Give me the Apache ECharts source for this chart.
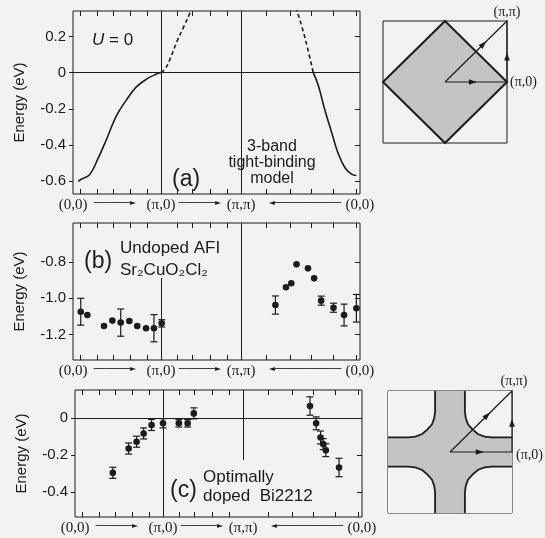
<!DOCTYPE html>
<html><head><meta charset="utf-8">
<script src="https://cdn.jsdelivr.net/npm/echarts@6/dist/echarts.min.js"></script>
<style>html,body{margin:0;padding:0;background:#f2f2f0}#c{width:545px;height:538px}</style>
</head><body><div id="c"></div><script>
// ---- k-path (units: Γ→X distance = 1) ----
const kNodes = [0, 1, 1.91, 3.26];
const kNodeLabels = ['(0,0)', '(π,0)', '(π,π)', '(0,0)'];
const kArrowPos = [0.477, 1.443, 2.636];
const kArrowDir = ['r', 'r', 'l'];
const kTicks = [0.08, 0.27, 0.46, 0.65, 0.84, 1.18, 1.36, 1.56, 1.75, 2.2, 2.47, 2.71, 2.96, 3.22];

// ---- energy tick values ----
const aYTicks = [0.2, 0, -0.2, -0.4, -0.6];
const bYTicks = [-0.8, -1.0, -1.2];
const cYTicks = [0, -0.2, -0.4];
const aYRange = [-0.67, 0.34];
const bYRange = [-1.34, -0.585];
const cYRange = [-0.536, 0.154];

// ---- (a) 3-band tight-binding, U = 0 ----
const aLeftSolid = [[0.06,-0.60],[0.09,-0.59],[0.19,-0.562],[0.28,-0.479],[0.38,-0.369],[0.49,-0.241],[0.61,-0.149],[0.72,-0.079],[0.84,-0.035],[0.93,-0.012],[1.0,0]];
const aLeftDash = [[1.0,0],[1.05,0.022],[1.10,0.072],[1.19,0.182],[1.26,0.255],[1.33,0.33],[1.35,0.36]];
const aRightDash = [[2.53,0.36],[2.545,0.34],[2.60,0.255],[2.66,0.145],[2.73,0.0]];
const aRightSolid = [[2.73,0],[2.79,-0.075],[2.86,-0.204],[2.94,-0.332],[3.01,-0.442],[3.09,-0.525],[3.17,-0.562],[3.22,-0.568]];

// ---- (b) undoped Sr2CuO2Cl2: [k, E, error] ----
const bPoints = [
  [0.088,-1.074,0.074],[0.163,-1.092,0],[0.352,-1.153,0],[0.447,-1.123,0],[0.542,-1.134,0.075],
  [0.64,-1.125,0],[0.73,-1.153,0],[0.83,-1.165,0],[0.92,-1.165,0.075],[1.008,-1.138,0.02],
  [2.30,-1.037,0.05],[2.42,-0.939,0],[2.48,-0.917,0],[2.54,-0.813,0],[2.67,-0.835,0],
  [2.74,-0.89,0],[2.82,-1.013,0.025],[2.96,-1.052,0.025],[3.08,-1.092,0.06],[3.22,-1.055,0.076]
];

// ---- (c) optimally doped Bi2212: [k, E, error] ----
const cPoints = [
  [0.43,-0.296,0.03],[0.61,-0.164,0.03],[0.70,-0.127,0.03],[0.78,-0.082,0.03],[0.87,-0.036,0.03],
  [1.0,-0.027,0.025],[1.18,-0.027,0.02],[1.28,-0.027,0.02],[1.35,0.027,0.03],
  [2.67,0.067,0.05],[2.74,-0.027,0.035],[2.79,-0.104,0.035],[2.82,-0.14,0.03],[2.85,-0.173,0.035],[3.0,-0.267,0.05]
];

// ---- Brillouin-zone sketches (units of π) ----
const bzDiamond = [[0,1],[1,0],[0,-1],[-1,0]];
const bzSquare = [[-1,-1],[1,-1],[1,1],[-1,1]];
const bzPath = [[0,0],[1,0],[1,1],[0,0]];
const bzArrowsTop = [[0.45,0,1,0],[1,0.42,0,1],[0.62,0.62,1,1]];
const bzArrowsBot = [[0.48,0,1,0],[1,0.48,0,1],[0.6,0.6,1,1]];
const fsQuadrant = [[0.24,1],[0.24,0.67],[0.253,0.56],[0.29,0.455],[0.366,0.366],[0.455,0.29],[0.56,0.253],[0.67,0.24],[1,0.24]];

const INK = '#1c1c1c', BG = '#f2f2f0', SHADE = '#c4c4c2';
const SANS = 'Liberation Sans, Arial, sans-serif';
const SERIF = 'Liberation Serif, Times New Roman, serif';

function kLabel(v) {
  for (let i = 0; i < kNodes.length; i++) if (Math.abs(v - kNodes[i]) < 1e-6) return '{n|' + kNodeLabels[i] + '}';
  for (let i = 0; i < kArrowPos.length; i++) if (Math.abs(v - kArrowPos[i]) < 1e-6)
    return kArrowDir[i] === 'r' ? '{l|──────}{h|►}' : '{h|◄}{l|───────────}';
  return '';
}
const kRich = {
  n: {fontFamily: SERIF, fontSize: 15, color: INK},
  l: {fontFamily: 'DejaVu Sans', fontSize: 10, color: INK},
  h: {fontFamily: 'DejaVu Sans', fontSize: 8, color: INK}
};

function xAxesFor(gi) {
  return [
    {gridIndex: gi, type: 'value', min: 0, max: 3.261, position: 'bottom',
     axisLine: {show: false, onZero: false}, splitLine: {show: false},
     axisTick: {show: true, inside: true, length: 5, customValues: kTicks, lineStyle: {color: INK}},
     axisLabel: {show: true, margin: 4, customValues: kNodes.concat(kArrowPos), formatter: kLabel, rich: kRich, hideOverlap: false}},
    {gridIndex: gi, type: 'value', min: 0, max: 3.261, position: 'top',
     axisLine: {show: false, onZero: false}, splitLine: {show: false}, axisLabel: {show: false},
     axisTick: {show: true, inside: true, length: 5, customValues: kTicks, lineStyle: {color: INK}}}
  ];
}
function yAxesFor(gi, range, ticks) {
  return [
    {gridIndex: gi, type: 'value', min: range[0], max: range[1], position: 'left',
     name: 'Energy (eV)', nameLocation: 'middle', nameGap: 46, nameRotate: 90,
     nameTextStyle: {fontFamily: SANS, fontSize: 15, color: INK},
     axisLine: {show: false, onZero: false}, splitLine: {show: false},
     axisTick: {show: true, inside: false, length: 4, customValues: ticks, lineStyle: {color: INK}},
     axisLabel: {show: true, margin: 7, customValues: ticks, fontFamily: SANS, fontSize: 15, color: INK,
       formatter: v => (Math.abs(v) < 1e-9 ? '0' : v.toFixed(1))}},
    {gridIndex: gi, type: 'value', min: range[0], max: range[1], position: 'right',
     axisLine: {show: false, onZero: false}, splitLine: {show: false}, axisLabel: {show: false},
     axisTick: {show: true, inside: true, length: 5, customValues: ticks, lineStyle: {color: INK}}}
  ];
}

function refLines(list) {
  return {silent: true, symbol: ['none', 'none'], animation: false, label: {show: false},
    lineStyle: {color: INK, width: 1, type: 'solid'}, emphasis: {disabled: true}, data: list};
}

function errRender(params, api) {
  const x = api.value(0), y = api.value(1), e = api.value(2);
  const p = api.coord([x, y]);
  const ch = [];
  if (e > 0) {
    const t = api.coord([x, y + e]), b = api.coord([x, y - e]);
    ch.push({type: 'line', shape: {x1: p[0], y1: t[1], x2: p[0], y2: b[1]}, style: {stroke: INK, lineWidth: 1.2}});
    ch.push({type: 'line', shape: {x1: p[0] - 3.5, y1: t[1], x2: p[0] + 3.5, y2: t[1]}, style: {stroke: INK, lineWidth: 1.2}});
    ch.push({type: 'line', shape: {x1: p[0] - 3.5, y1: b[1], x2: p[0] + 3.5, y2: b[1]}, style: {stroke: INK, lineWidth: 1.2}});
  }
  ch.push({type: 'circle', shape: {cx: p[0], cy: p[1], r: 3.3}, style: {fill: INK}});
  return {type: 'group', children: ch};
}

function arrowHead(api, a) {
  const p = api.coord([a[0], a[1]]);
  const q = api.coord([a[0] + a[2] * 0.1, a[1] + a[3] * 0.1]);
  let dx = q[0] - p[0], dy = q[1] - p[1];
  const n = Math.hypot(dx, dy); dx /= n; dy /= n;
  const L = 8, hw = 2.8;
  const tip = [p[0] + dx * L / 2, p[1] + dy * L / 2];
  const base = [p[0] - dx * L / 2, p[1] - dy * L / 2];
  return {type: 'polygon', shape: {points: [tip, [base[0] - dy * hw, base[1] + dx * hw], [base[0] + dy * hw, base[1] - dx * hw]]}, style: {fill: INK}};
}

function bzTopRender(params, api) {
  const ch = [];
  ch.push({type: 'polygon', shape: {points: bzDiamond.map(p => api.coord(p))}, style: {fill: SHADE, stroke: INK, lineWidth: 2}});
  ch.push({type: 'polyline', shape: {points: bzPath.map(p => api.coord(p))}, style: {stroke: INK, lineWidth: 1.2, fill: null}});
  bzArrowsTop.forEach(a => ch.push(arrowHead(api, a)));
  return {type: 'group', children: ch};
}
function bzBotRender(params, api) {
  const ch = [];
  ch.push({type: 'polygon', shape: {points: bzSquare.map(p => api.coord(p))}, style: {fill: SHADE}});
  [[1,1],[-1,1],[-1,-1],[1,-1]].forEach(([sx, sy]) => {
    const pts = fsQuadrant.map(([x, y]) => api.coord([sx * x, sy * y]));
    ch.push({type: 'polygon', shape: {points: pts.concat([api.coord([sx, sy])])}, style: {fill: BG}});
    ch.push({type: 'polyline', shape: {points: pts}, style: {stroke: INK, lineWidth: 1.8, fill: null}});
  });
  ch.push({type: 'polyline', shape: {points: bzPath.map(p => api.coord(p))}, style: {stroke: INK, lineWidth: 1.2, fill: null}});
  bzArrowsBot.forEach(a => ch.push(arrowHead(api, a)));
  return {type: 'group', children: ch};
}

const gridStyle = {show: true, borderColor: INK, borderWidth: 1, backgroundColor: 'transparent'};
const option = {
  backgroundColor: BG,
  animation: false,
  grid: [
    Object.assign({left: 73, top: 11, width: 287, height: 183}, gridStyle),
    Object.assign({left: 73, top: 223, width: 287, height: 137}, gridStyle),
    Object.assign({left: 75, top: 390, width: 287, height: 127}, gridStyle),
    Object.assign({left: 383, top: 21, width: 124, height: 122}, gridStyle),
    Object.assign({left: 388, top: 391, width: 124, height: 122}, gridStyle)
  ],
  xAxis: [].concat(xAxesFor(0), xAxesFor(1), xAxesFor(2),
    [{gridIndex: 3, type: 'value', min: -1, max: 1, show: false},
     {gridIndex: 4, type: 'value', min: -1, max: 1, show: false}]),
  yAxis: [].concat(yAxesFor(0, aYRange, aYTicks), yAxesFor(1, bYRange, bYTicks), yAxesFor(2, cYRange, cYTicks),
    [{gridIndex: 3, type: 'value', min: -1, max: 1, show: false},
     {gridIndex: 4, type: 'value', min: -1, max: 1, show: false}]),
  series: [
    {type: 'line', xAxisIndex: 0, yAxisIndex: 0, data: aLeftSolid, smooth: 0.4, symbol: 'none',
     lineStyle: {color: INK, width: 1.6},
     markLine: refLines([{xAxis: kNodes[1]}, {xAxis: kNodes[2]}, {yAxis: 0}])},
    {type: 'line', xAxisIndex: 0, yAxisIndex: 0, data: aLeftDash, smooth: 0.4, symbol: 'none',
     lineStyle: {color: INK, width: 1.6, type: [4, 3]}},
    {type: 'line', xAxisIndex: 0, yAxisIndex: 0, data: aRightDash, smooth: 0.4, symbol: 'none',
     lineStyle: {color: INK, width: 1.6, type: [4, 3]}},
    {type: 'line', xAxisIndex: 0, yAxisIndex: 0, data: aRightSolid, smooth: 0.4, symbol: 'none',
     lineStyle: {color: INK, width: 1.6}},
    {type: 'custom', xAxisIndex: 2, yAxisIndex: 2, data: bPoints, renderItem: errRender, clip: false,
     markLine: refLines([{xAxis: kNodes[2]}, [{coord: [kNodes[1], -0.888]}, {coord: [kNodes[1], bYRange[0]]}]])},
    {type: 'custom', xAxisIndex: 4, yAxisIndex: 4, data: cPoints, renderItem: errRender, clip: false,
     markLine: refLines([{xAxis: kNodes[1]}, {yAxis: 0}, [{coord: [kNodes[2], cYRange[1]]}, {coord: [kNodes[2], -0.227]}]])},
    {type: 'custom', xAxisIndex: 6, yAxisIndex: 6, data: [[0, 0]], renderItem: bzTopRender, clip: false},
    {type: 'custom', xAxisIndex: 7, yAxisIndex: 7, data: [[0, 0]], renderItem: bzBotRender, clip: false}
  ],
  graphic: [
    {type: 'text', x: 92, y: 40, style: {text: '{i|U} = 0', fill: INK, font: '17px ' + SANS, verticalAlign: 'middle',
      rich: {i: {fontStyle: 'italic', fontFamily: SANS, fontSize: 17, fill: INK}}}},
    {type: 'text', x: 172, y: 180, style: {text: '(a)', fill: INK, font: '23px ' + SANS, verticalAlign: 'middle'}},
    {type: 'text', x: 272, y: 139, style: {text: '3-band\ntight-binding\nmodel', fill: INK, font: '16px ' + SANS, align: 'center', verticalAlign: 'top', lineHeight: 16}},
    {type: 'text', x: 84, y: 262, style: {text: '(b)', fill: INK, font: '23px ' + SANS, verticalAlign: 'middle'}},
    {type: 'text', x: 120, y: 248, style: {text: 'Undoped AFI', fill: INK, font: '17px ' + SANS, verticalAlign: 'middle'}},
    {type: 'text', x: 120, y: 270, style: {text: 'Sr₂CuO₂Cl₂', fill: INK, font: '17px ' + SANS, verticalAlign: 'middle'}},
    {type: 'text', x: 170, y: 491, style: {text: '(c)', fill: INK, font: '23px ' + SANS, verticalAlign: 'middle'}},
    {type: 'text', x: 203, y: 477, style: {text: 'Optimally', fill: INK, font: '17px ' + SANS, verticalAlign: 'middle'}},
    {type: 'text', x: 203, y: 496, style: {text: 'doped  Bi2212', fill: INK, font: '17px ' + SANS, verticalAlign: 'middle'}},
    {type: 'text', x: 507, y: 12, style: {text: '(π,π)', fill: INK, font: '14px ' + SERIF, align: 'center', verticalAlign: 'middle'}},
    {type: 'text', x: 510, y: 82, style: {text: '(π,0)', fill: INK, font: '14px ' + SERIF, verticalAlign: 'middle'}},
    {type: 'text', x: 446, y: 94, style: {text: '(0,0)', fill: INK, font: '14px ' + SERIF, align: 'center', verticalAlign: 'middle'}},
    {type: 'text', x: 514, y: 381, style: {text: '(π,π)', fill: INK, font: '14px ' + SERIF, align: 'center', verticalAlign: 'middle'}},
    {type: 'text', x: 516, y: 455, style: {text: '(π,0)', fill: INK, font: '14px ' + SERIF, verticalAlign: 'middle'}},
    {type: 'text', x: 452, y: 465, style: {text: '(0,0)', fill: INK, font: '14px ' + SERIF, align: 'center', verticalAlign: 'middle'}}
  ]
};
const chart = echarts.init(document.getElementById('c'), null, {renderer: 'canvas'});
chart.setOption(option);
</script></body></html>
